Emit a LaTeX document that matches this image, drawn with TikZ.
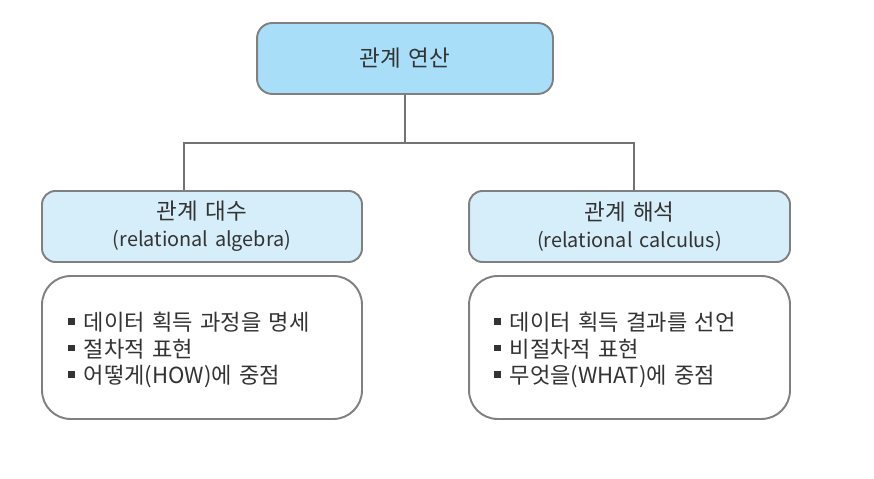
\documentclass[tikz,border=0pt]{standalone}
\usepackage{fontspec}
\setmainfont[WordSpace=1.5]{Noto Sans CJK KR}
\usetikzlibrary{positioning}
\definecolor{topblue}{RGB}{168,222,248}
\definecolor{subblue}{RGB}{214,238,250}
\definecolor{frame}{RGB}{128,128,128}
\definecolor{ink}{RGB}{51,51,51}
\newcommand{\sqbul}{\rule[0.26em]{0.3em}{0.3em}\hspace{0.4em}}
\newcommand{\latin}[1]{{\fontsize{11.3}{15}\selectfont #1}}
\begin{document}
\begin{tikzpicture}[x=0.02cm,y=0.02cm,
    topbox/.style={draw=frame,line width=1.1pt,fill=topblue,rectangle,rounded corners=1.6ex,
      minimum width=5.92cm,minimum height=1.42cm,text=ink,font=\fontsize{12.8}{15}\selectfont},
    headbox/.style={draw=frame,line width=1.1pt,fill=subblue,rectangle,rounded corners=1.4ex,
      minimum width=6.4cm,minimum height=1.42cm,align=center,text=ink,font=\fontsize{12.8}{15.3}\selectfont},
    bodybox/.style={draw=frame,line width=1.1pt,fill=white,rectangle,rounded corners=3ex,
      minimum width=6.4cm,minimum height=2.86cm},
    bodytext/.style={anchor=west,align=left,text=ink,font=\fontsize{12.6}{15}\selectfont},
    link/.style={draw=frame!90!black,line width=1pt}]
        \useasboundingbox (0,0) rectangle (874,479);
        %% Top
        \node[topbox] (ops) at (405,420.5) {관계 연산};
        %% Headers
        \node[headbox] (algebra) at (202,252.5) {관계 대수\\\latin{(relational algebra)}};
        \node[headbox,minimum width=6.42cm] (calculus) at (629.5,252.5) {관계 해석\\\latin{(relational calculus)}};
        %% Bodies
        \node[bodybox] (algbody) at (202,131.5) {};
        \node[bodybox,minimum width=6.42cm] (calbody) at (629.5,131.5) {};
        \node[bodytext] (algtext) at (62,129) {\sqbul 데이터 획득 과정을 명세\\\sqbul 절차적 표현\\\sqbul 어떻게(HOW)에 중점};
        \node[bodytext] (caltext) at (488,129) {\sqbul 데이터 획득 결과를 선언\\\sqbul 비절차적 표현\\\sqbul 무엇을(WHAT)에 중점};
        %% Links
        \coordinate (split) at (405,336);
        \draw[link] (ops.south) -- (split);
        \draw[link] ([xshift=-0.36cm]algebra.north) |- (split) -| ([xshift=0.09cm]calculus.north);
    \end{tikzpicture}
\end{document}
